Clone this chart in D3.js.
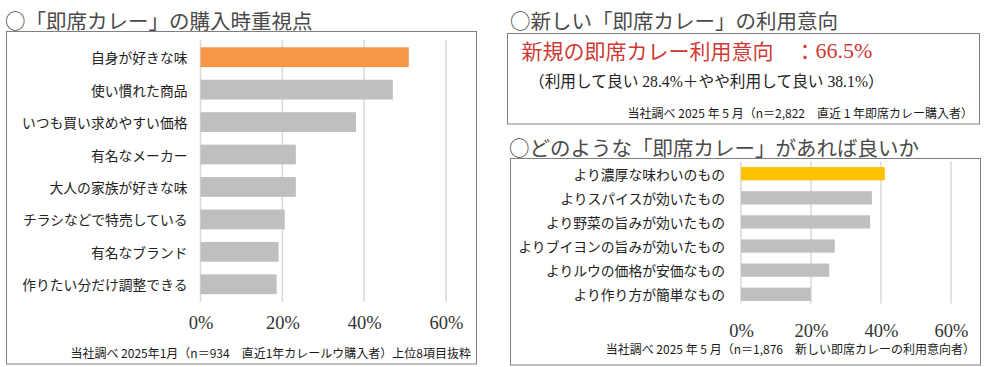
<!DOCTYPE html>
<html><head><meta charset="utf-8">
<script src="https://cdn.jsdelivr.net/npm/d3@7"></script>
<style>
html,body{margin:0;padding:0;background:#fff;}
svg{display:block;}
</style></head>
<body>
<script>
// ---- Data ----
const leftCategories = ["自身が好きな味","使い慣れた商品","いつも買い求めやすい価格","有名なメーカー","大人の家族が好きな味","チラシなどで特売している","有名なブランド","作りたい分だけ調整できる"];
const leftValues = [50.9, 47.0, 38.0, 23.3, 23.3, 20.6, 19.1, 18.6];
const rightCategories = ["より濃厚な味わいのもの","よりスパイスが効いたもの","より野菜の旨みが効いたもの","よりブイヨンの旨みが効いたもの","よりルウの価格が安価なもの","より作り方が簡単なもの"];
const rightValues = [41.1, 37.4, 36.9, 26.8, 25.2, 19.9];
const tickValues = [0, 20, 40, 60];
const tickLabels = ["0%","20%","40%","60%"];
const titles = ["○「即席カレー」の購入時重視点","○新しい「即席カレー」の利用意向","○どのような「即席カレー」があれば良いか"];
const headline = ["新規の即席カレー利用意向　：", "66.5%"];
const subline = "（利用して良い 28.4%＋やや利用して良い 38.1%）";
const notes = ["当社調べ 2025年1月（n＝934　直近1年カレールウ購入者）上位8項目抜粋",
               "当社調べ 2025 年 5 月（n＝2,822　直近 1 年即席カレー購入者）",
               "当社調べ 2025 年 5 月（n＝1,876　新しい即席カレーの利用意向者）"];

const W = 984, H = 367;
const JP = "'Noto Sans CJK JP', sans-serif";
const SERIF = "'Liberation Serif', 'Noto Sans CJK JP', serif";
const svg = d3.select("body").append("svg").attr("width", W).attr("height", H);

// Titles
const titlePos = [[5, 20], [510, 20], [509, 147]];
titles.forEach((t, i) => {
  svg.append("text").attr("x", titlePos[i][0]).attr("y", titlePos[i][1])
    .attr("dominant-baseline", "central")
    .style("font-family", JP).style("font-size", "20.5px").style("fill", "#4a4a4a").text(t);
});

// Boxes
const boxes = [[6.5, 31.5, 470, 332.5], [507.5, 33.5, 472, 90.5], [510.5, 158.5, 470, 206.5]];
boxes.forEach(b => {
  svg.append("rect").attr("x", b[0]).attr("y", b[1]).attr("width", b[2]).attr("height", b[3])
    .attr("fill", "none").attr("stroke", "#7f7f7f").attr("stroke-width", 1);
});

function barChart(cfg) {
  const g = svg.append("g");
  const x = d3.scaleLinear().domain([0, 60]).range(cfg.xRange);
  const y = d3.scaleBand().domain(cfg.cats).range(cfg.yRange)
    .paddingInner(cfg.pi).paddingOuter(cfg.po);
  // gridlines
  g.selectAll("line.grid").data(tickValues).join("line")
    .attr("x1", d => x(d)).attr("x2", d => x(d))
    .attr("y1", cfg.gridY[0]).attr("y2", cfg.gridY[1])
    .attr("stroke", "#d9d9d9").attr("stroke-width", 1.5);
  // bars
  g.selectAll("rect.bar").data(cfg.vals).join("rect")
    .attr("x", x(0)).attr("y", (d, i) => y(cfg.cats[i]))
    .attr("width", d => x(d) - x(0)).attr("height", y.bandwidth())
    .attr("fill", (d, i) => i === 0 ? cfg.highlight : "#bfbfbf");
  // category labels
  g.selectAll("text.cat").data(cfg.cats).join("text")
    .attr("x", cfg.labelX).attr("y", d => y(d) + y.bandwidth() / 2)
    .attr("text-anchor", "end").attr("dominant-baseline", "central")
    .style("font-family", JP).style("font-size", "13.8px").style("fill", "#222")
    .text(d => d);
  // tick labels via axis
  const axis = d3.axisBottom(x).tickValues(tickValues).tickSize(0)
    .tickFormat((d, i) => tickLabels[i]);
  const ag = g.append("g").attr("transform", `translate(0,${cfg.tickY})`).call(axis);
  ag.select(".domain").remove();
  ag.selectAll("text").attr("dy", null).attr("y", 0)
    .attr("dominant-baseline", "central")
    .style("font-family", SERIF).style("font-size", "18.5px").style("fill", "#333");
}

barChart({cats: leftCategories, vals: leftValues, xRange: [200.5, 446], yRange: [40.5, 301],
  pi: 0.39, po: 0.21, gridY: [40, 302], labelX: 187.5, tickY: 323, highlight: "#f79646"});
barChart({cats: rightCategories, vals: rightValues, xRange: [741, 951], yRange: [163, 305],
  pi: 0.45, po: 0.17, gridY: [161.5, 303.5], labelX: 725, tickY: 331, highlight: "#ffc000"});

// Headline
const hl = svg.append("text").attr("x", 521.5).attr("y", 50).attr("dominant-baseline", "central")
  .style("fill", "#d03a35").style("font-size", "21px");
hl.append("tspan").style("font-family", JP).text(headline[0]);
hl.append("tspan").style("font-family", SERIF).style("font-size", "22px").text(headline[1]);

svg.append("text").attr("x", 529).attr("y", 81.5).attr("dominant-baseline", "central")
  .style("font-family", SERIF).style("font-size", "15.7px").style("fill", "#222").text(subline);

// Notes
const notePos = [[471, 352], [973, 112], [975, 348.5]];
notes.forEach((t, i) => {
  svg.append("text").attr("x", notePos[i][0]).attr("y", notePos[i][1])
    .attr("text-anchor", "end").attr("dominant-baseline", "central")
    .style("font-family", JP).style("font-size", "12px").style("fill", "#1a1a1a").text(t);
});
</script>
</body></html>
